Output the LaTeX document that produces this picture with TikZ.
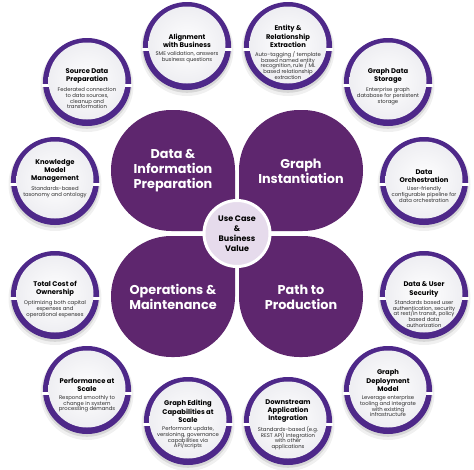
\documentclass[tikz,border=0pt]{standalone}
\usepackage{fontspec}
\setmainfont{Poppins}
\definecolor{ringc}{RGB}{78,40,137}
\definecolor{petalc}{RGB}{94,38,110}
\definecolor{lavc}{RGB}{230,219,236}
\definecolor{descc}{RGB}{45,45,45}
\definecolor{discedge}{RGB}{238,238,242}
\newcommand\TightLines{\lineskiplimit=-20pt\relax}
\tikzset{
  ringnode/.style={circle, fill=ringc, draw=none, minimum size=88pt, inner sep=0pt},
  ttl/.style={align=center, inner sep=0pt, font={\fontsize{6.8}{8.4}\selectfont\bfseries\TightLines}, text=black},
  dsc/.style={align=center, inner sep=0pt, font={\fontsize{5.3}{5.9}\selectfont\TightLines}, text=descc},
  petaltext/.style={align=center, inner sep=0pt, font={\fontsize{12.8}{15}\selectfont\bfseries\TightLines}, text=white},
  corec/.style={circle, fill=lavc, draw=white, line width=3pt, minimum size=66pt, inner sep=0pt, align=center, font={\fontsize{8}{10}\selectfont\bfseries\TightLines}, text=black},
  petalfill/.style={fill=petalc}
}
\def\PR{60.5}
\newcommand\OuterItem[5]{%
  \fill[black, opacity=0.06] (#2,#3+3.5) circle[radius=46.5pt];
  \fill[black, opacity=0.10] (#2,#3+2) circle[radius=44.8pt];
  \node[ringnode] (#1) at (#2,#3) {};
  \fill[white] (#2-45,#3+1.5) rectangle (#2+45,#3+4.5);
  \shade[inner color=white, outer color=discedge] (#2,#3-1) circle[radius=38.5pt];
  \node[ttl, anchor=south] (#1-t) at (#2,#3+2) {#4};
  \node[dsc, anchor=north] (#1-d) at (#2,#3+5) {#5};
}
\begin{document}
\begin{tikzpicture}[x=1pt,y=-1pt]
\useasboundingbox (0,0) rectangle (474,469);
\fill[white] (0,0) rectangle (474,469);
% petals (three rounded corners, one square corner at the centre)
\fill[petalfill] (235,231) -- (111+\PR,231) arc[start angle=270,end angle=180,radius=\PR pt]
  -- (111,110+\PR) arc[start angle=180,end angle=90,radius=\PR pt]
  -- (235-\PR,110) arc[start angle=90,end angle=0,radius=\PR pt] -- cycle;
\fill[petalfill] (239,231) -- (239,110+\PR) arc[start angle=180,end angle=90,radius=\PR pt]
  -- (363-\PR,110) arc[start angle=90,end angle=0,radius=\PR pt]
  -- (363,231-\PR) arc[start angle=0,end angle=-90,radius=\PR pt] -- cycle;
\fill[petalfill] (235,236) -- (111+\PR,236) arc[start angle=90,end angle=180,radius=\PR pt]
  -- (111,357-\PR) arc[start angle=180,end angle=270,radius=\PR pt]
  -- (235-\PR,357) arc[start angle=270,end angle=360,radius=\PR pt] -- cycle;
\fill[petalfill] (239,236) -- (239,357-\PR) arc[start angle=180,end angle=270,radius=\PR pt]
  -- (363-\PR,357) arc[start angle=270,end angle=360,radius=\PR pt]
  -- (363,236+\PR) arc[start angle=0,end angle=90,radius=\PR pt] -- cycle;
\node[petaltext] (p1) at (173,171) {Data \&\\Information\\Preparation};
\node[petaltext] (p2) at (301,171) {Graph\\Instantiation};
\node[petaltext] (p3) at (173,297) {Operations \&\\Maintenance};
\node[petaltext] (p4) at (301,297) {Path to\\Production};
\node[corec] (core) at (237,233.5) {Use Case\\\&\\Business\\Value};
% outer items
\OuterItem{align}{187}{46}{Alignment\\with Business}{SME validation, answers\\business questions}
\OuterItem{entity}{288}{46}{Entity \&\\Relationship\\Extraction}{Auto-tagging / template\\based named entity\\recognition, rule / ML\\based relationship\\extraction}
\OuterItem{storage}{388}{82}{Graph Data\\Storage}{Enterprise graph\\database for persistent\\storage}
\OuterItem{orch}{424}{181}{Data\\Orchestration}{User-friendly\\configurable pipeline for\\data orchestration}
\OuterItem{secur}{424}{295}{Data \& User\\Security}{Standards based user\\authentication, security\\at rest/in transit, policy\\based data\\authorization}
\OuterItem{deploy}{388}{390}{Graph\\Deployment\\Model}{Leverage enterprise\\tooling and integrate\\with existing\\infrastructure}
\OuterItem{downstream}{288}{421}{Downstream\\Application\\Integration}{Standards-based (e.g.\\REST API) integration\\with other\\applications}
\OuterItem{editing}{188}{421}{Graph Editing\\Capabilities at\\Scale}{Performant update,\\versioning, governance\\capabilities via\\API/scripts}
\OuterItem{perf}{87}{390}{Performance at\\Scale}{Respond smoothly to\\change in system\\processing demands}
\OuterItem{tco}{55}{295}{Total Cost of\\Ownership}{Optimizing both capital\\expenses and\\operational expenses}
\OuterItem{know}{55}{181}{Knowledge\\Model\\Management}{Standards-based\\taxonomy and ontology}
\OuterItem{source}{87}{82}{Source Data\\Preparation}{Federated connection\\to data sources,\\cleanup and\\transformation}
\end{tikzpicture}
\end{document}
